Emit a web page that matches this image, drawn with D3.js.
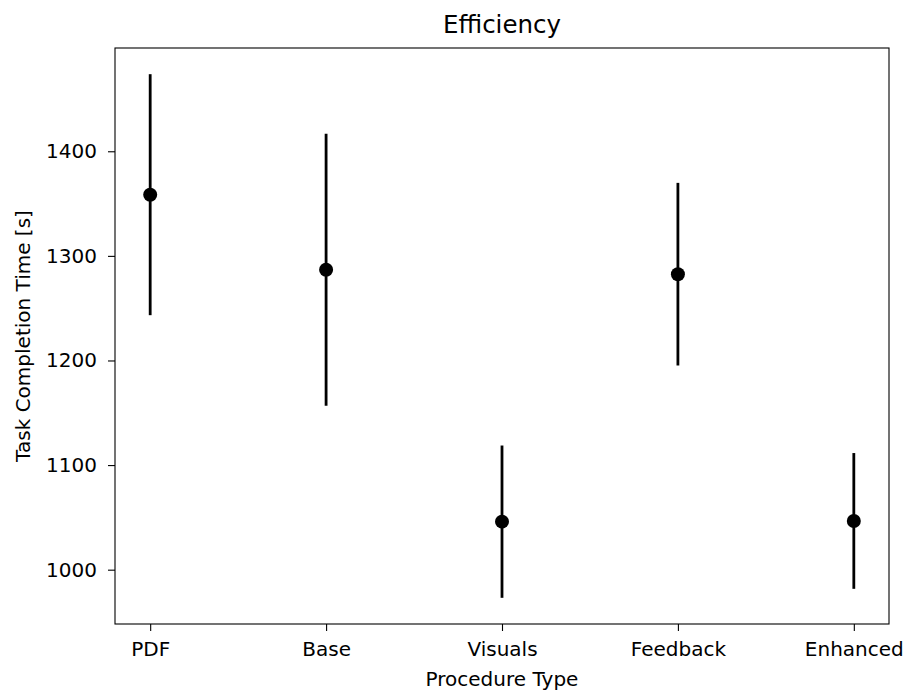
<!DOCTYPE html>
<html>
<head>
<meta charset="utf-8">
<script src="https://cdn.jsdelivr.net/npm/d3@7"></script>
<style>
  body { margin: 0; background: #fff; }
  text { font-family: "DejaVu Sans", sans-serif; fill: #000; }
</style>
</head>
<body>
<div id="chart"></div>
<script>
var categories = ["PDF", "Base", "Visuals", "Feedback", "Enhanced"];
var means = [1358.5, 1286.8, 1045.9, 1282.5, 1046.6];
var errors = [115.2, 130.0, 72.8, 87.3, 64.9];
var yTicks = [1000, 1100, 1200, 1300, 1400];

function init(){
    var w = 909;
    var h = 692;
    var left = 115, right = 889, top = 48, bottom = 624;

    var svg = d3.select("#chart")
                .append("svg")
                .attr("width", w)
                .attr("height", h);

    // matplotlib style 5% margins
    var x = d3.scaleLinear()
              .domain([-0.2, categories.length - 1 + 0.2])
              .range([left, right]);

    var lo = d3.min(means, function(d, i){ return d - errors[i]; });
    var hi = d3.max(means, function(d, i){ return d + errors[i]; });
    var pad = (hi - lo) * 0.05;
    var y = d3.scaleLinear()
              .domain([lo - pad, hi + pad])
              .range([bottom, top]);

    var xAxis = d3.axisBottom(x)
                  .tickValues(d3.range(categories.length))
                  .tickFormat(function(d){ return categories[d]; })
                  .tickSizeInner(7).tickSizeOuter(0).tickPadding(11);
    var yAxis = d3.axisLeft(y)
                  .tickValues(yTicks)
                  .tickFormat(d3.format("d"))
                  .tickSizeInner(7).tickSizeOuter(0).tickPadding(11);

    var gx = svg.append("g")
       .attr("transform", "translate(0," + bottom + ")")
       .call(xAxis);
    var gy = svg.append("g")
       .attr("transform", "translate(" + left + ",0)")
       .call(yAxis);

    [gx, gy].forEach(function(g){
        g.select(".domain").remove();
        g.selectAll(".tick line").attr("stroke", "#000").attr("stroke-width", 1.1);
        g.selectAll(".tick text").style("font-size", "20px").attr("fill", "#222");
    });

    // frame
    svg.append("rect")
       .attr("x", left).attr("y", top)
       .attr("width", right - left).attr("height", bottom - top)
       .attr("fill", "none").attr("stroke", "#000").attr("stroke-width", 1.1);

    // error bars
    svg.selectAll("line.err")
       .data(means)
       .enter()
       .append("line")
       .attr("class", "err")
       .attr("x1", function(d, i){ return x(i); })
       .attr("x2", function(d, i){ return x(i); })
       .attr("y1", function(d, i){ return y(d - errors[i]); })
       .attr("y2", function(d, i){ return y(d + errors[i]); })
       .attr("stroke", "#000")
       .attr("stroke-width", 2.8);

    svg.selectAll("circle")
       .data(means)
       .enter()
       .append("circle")
       .attr("cx", function(d, i){ return x(i); })
       .attr("cy", function(d){ return y(d); })
       .attr("r", 7)
       .attr("fill", "#000");

    svg.append("text")
       .attr("x", (left + right) / 2).attr("y", 33)
       .attr("text-anchor", "middle")
       .style("font-size", "24.5px")
       .attr("fill", "#222")
       .text("Efficiency");

    svg.append("text")
       .attr("x", (left + right) / 2).attr("y", 686)
       .attr("text-anchor", "middle")
       .style("font-size", "20px")
       .attr("fill", "#222")
       .text("Procedure Type");

    svg.append("text")
       .attr("transform", "translate(30," + (top + bottom) / 2 + ") rotate(-90)")
       .attr("text-anchor", "middle")
       .style("font-size", "20px")
       .attr("fill", "#222")
       .text("Task Completion Time [s]");
}
window.onload = init;
</script>
</body>
</html>
